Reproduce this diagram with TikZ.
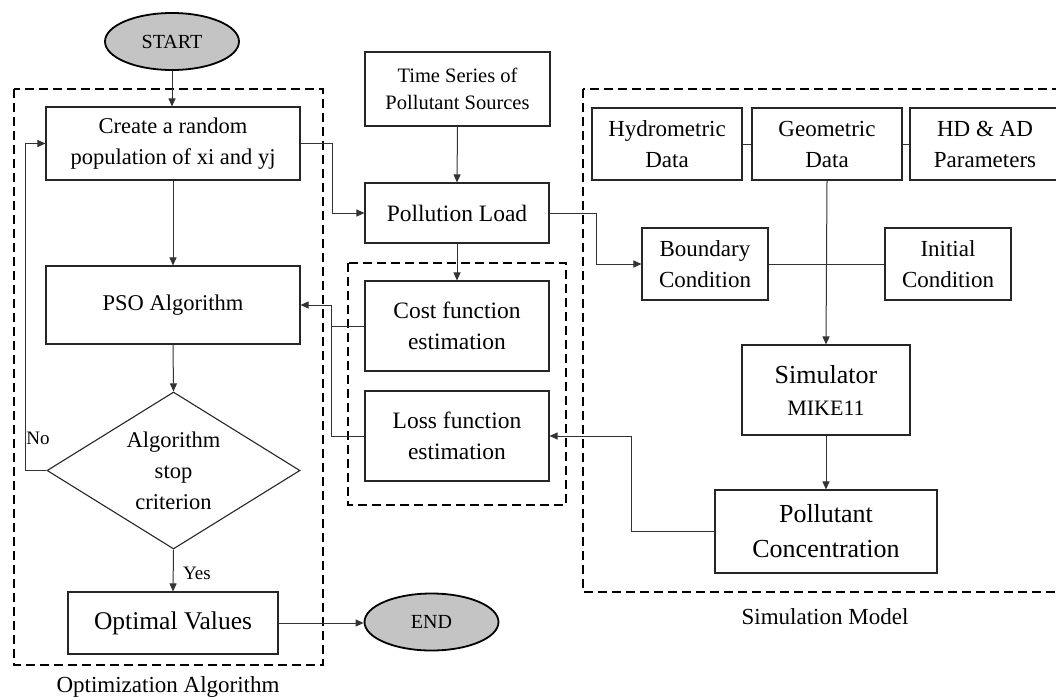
\documentclass[tikz,border=0pt]{standalone}
\usepackage{fontspec}
\setmainfont{Liberation Serif}
\usetikzlibrary{shapes.geometric,arrows.meta}
\begin{document}
\begin{tikzpicture}[x=1pt,y=-1pt,
  box/.style={draw=black!85,line width=1.1pt,inner sep=0pt,align=center,font=\fontsize{23}{31}\selectfont},
  bigbox/.style={box,font=\fontsize{26}{35}\selectfont},
  term/.style={ellipse,draw=black,line width=1.8pt,fill=black!23,inner sep=0pt,minimum width=134pt,minimum height=57pt,font=\fontsize{20}{24}\selectfont},
  arr/.style={-{Triangle[length=8pt,width=7pt]},line width=1pt,draw=black!80},
  ln/.style={line width=1pt,draw=black!80},
  grp/.style={draw=black,dash pattern=on 9pt off 5pt,line width=2.3pt},
  lbl/.style={inner sep=0pt,font=\fontsize{23}{27}\selectfont},
  small/.style={inner sep=0pt,font=\fontsize{19}{23}\selectfont}]

\path[use as bounding box] (0,0) rectangle (1056,699);
\clip (0,0) rectangle (1056,699);

% group frames
\draw[grp] (14,89) rectangle (323,665);
\draw[grp] (348,263) rectangle (566,505);
\draw[grp] (583,89) rectangle (1068,592);

% terminals
\node[term] (start) at (172,41.5) {START};
\node[term] (end) at (431.5,622) {END};

% optimization column
\node[box,minimum width=254pt,minimum height=73pt,font=\fontsize{22.5}{31}\selectfont] (create) at (173,143.5) {Create a random\\population of xi and yj};
\node[box,minimum width=254pt,minimum height=78pt,font=\fontsize{22.5}{31}\selectfont] (pso) at (173,305) {PSO Algorithm};
\node[diamond,draw=black!85,line width=1.1pt,inner sep=0pt,aspect=1.6,minimum width=253pt,minimum height=157pt,align=center,font=\fontsize{22.5}{31}\selectfont] (stop) at (173.5,470.5) {Algorithm\\stop\\criterion};
\node[box,minimum width=210pt,minimum height=62pt,font=\fontsize{25.5}{30}\selectfont] (opt) at (173,623) {Optimal Values};

% middle column
\node[box,minimum width=185pt,minimum height=74pt,font=\fontsize{20.5}{27}\selectfont] (ts) at (457.5,89) {Time Series of\\Pollutant Sources};
\node[box,minimum width=184pt,minimum height=60pt,font=\fontsize{23.5}{30}\selectfont] (load) at (457,213) {Pollution Load};
\node[box,minimum width=184pt,minimum height=90pt,font=\fontsize{23.5}{31}\selectfont] (cost) at (457,326) {Cost function\\estimation};
\node[box,minimum width=184pt,minimum height=90pt,font=\fontsize{23.5}{31}\selectfont] (loss) at (457,436) {Loss function\\estimation};

% simulation model
\node[box,minimum width=150pt,minimum height=72pt] (hydro) at (667,144) {Hydrometric\\Data};
\node[box,minimum width=150pt,minimum height=72pt] (geom) at (827,144) {Geometric\\Data};
\node[box,minimum width=150pt,minimum height=72pt] (hdad) at (985,144) {HD \& AD\\Parameters};
\node[box,minimum width=126pt,minimum height=72pt] (bound) at (705,264) {Boundary\\Condition};
\node[box,minimum width=126pt,minimum height=72pt] (init) at (948,264) {Initial\\Condition};
\node[box,minimum width=168pt,minimum height=90pt,font=\fontsize{26}{32}\selectfont] (sim) at (826,390) {Simulator\\{\fontsize{22}{32}\selectfont MIKE11}};
\node[bigbox,minimum width=222pt,minimum height=83pt] (conc) at (826,531.5) {Pollutant\\Concentration};

% labels
\node[lbl] (optlbl) at (168,687) {Optimization Algorithm};
\node[lbl] (simlbl) at (825,617) {Simulation Model};
\node[small] (no) at (38,438) {No};
\node[small] (yes) at (197,573) {Yes};

% connectors
\draw[arr] (start.south) -- (start.south |- create.north);
\draw[arr] (create.south) -- (pso.north);
\draw[arr] (pso.south) -- (stop.north);
\draw[arr] (stop.south) -- (opt.north);
\draw[arr] (stop.west) -- ++(-21,0) |- (create.west);
\draw[arr] (opt.east) -- (opt.east -| end.west);
\draw[arr] (create.east) -- ++(32,0) |- (load.west);
\draw[arr] (ts.south) -- (load.north);
\draw[arr] (load.south) -- (cost.north);
\draw[arr] (load.east) -- ++(47,0) |- (bound.west);
\draw[arr] (cost.west) -- ++(-33,0) |- (pso.east);
\draw[ln] (loss.west) -- ++(-33,0) |- (cost.west);
\draw[ln] (hydro.east) -- (geom.west);
\draw[ln] (geom.east) -- (hdad.west);
\draw[ln] (bound.east) -- (init.west);
\draw[arr] (geom.south) -- (sim.north);
\draw[arr] (sim.south) -- (conc.north);
\draw[arr] (conc.west) -- ++(-83,0) |- (loss.east);
\end{tikzpicture}
\end{document}
